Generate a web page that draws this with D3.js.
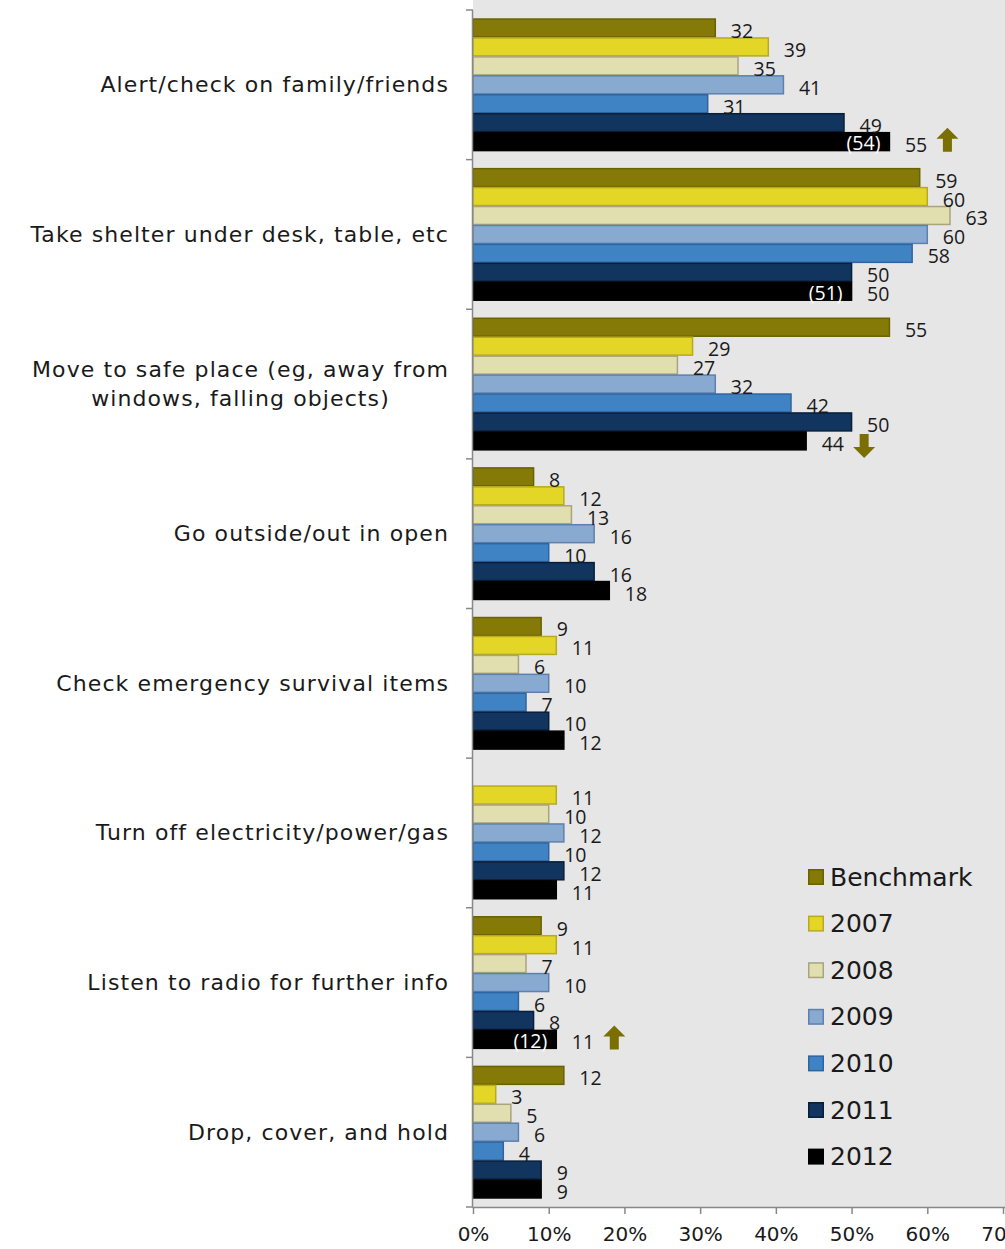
<!DOCTYPE html>
<html>
<head>
<meta charset="utf-8">
<script src="https://cdn.jsdelivr.net/npm/d3@7"></script>
<style>
  html, body { margin: 0; padding: 0; background: #ffffff; }
  svg { display: block; }
  text { font-family: "DejaVu Sans", "Open Sans", sans-serif; fill: #1a1a1a; }
  text.num { font-family: "Open Sans", "DejaVu Sans", sans-serif; }
</style>
</head>
<body>
<svg id="chart" width="1005" height="1249"></svg>
<script>
// ---- data ----
const categories = [
  "Alert/check on family/friends",
  "Take shelter under desk, table, etc",
  "Move to safe place (eg, away from\nwindows, falling objects)",
  "Go outside/out in open",
  "Check emergency survival items",
  "Turn off electricity/power/gas",
  "Listen to radio for further info",
  "Drop, cover, and hold"
];
const seriesNames = ["Benchmark", "2007", "2008", "2009", "2010", "2011", "2012"];
const benchmark = [32, 59, 55, 8, 9, null, 9, 12];
const y2007 = [39, 60, 29, 12, 11, 11, 11, 3];
const y2008 = [35, 63, 27, 13, 6, 10, 7, 5];
const y2009 = [41, 60, 32, 16, 10, 12, 10, 6];
const y2010 = [31, 58, 42, 10, 7, 10, 6, 4];
const y2011 = [49, 50, 50, 16, 10, 12, 8, 9];
const y2012 = [55, 50, 44, 18, 12, 11, 11, 9];
const y2012Prior = [54, 51, null, null, null, null, 12, null];   // values shown in brackets inside 2012 bars
const arrowMarks = [ [0, "up"], [2, "down"], [6, "up"] ];          // [category index, direction]
const xTicks = [0, 10, 20, 30, 40, 50, 60, 70];

const seriesValues = [benchmark, y2007, y2008, y2009, y2010, y2011, y2012];
const fills   = ["#857a08", "#e3d627", "#e1deb0", "#88aad1", "#4083c5", "#11355f", "#000000"];
const strokes = ["#6a6100", "#b8aa1c", "#aaa47c", "#5d80ad", "#2e64a0", "#081f3c", "#000000"];

// ---- layout ----
const svg = d3.select("#chart");
const mLeft = 473, mRight = 1003, mTop = 10, mBottom = 1207;

svg.append("rect").attr("x", mLeft).attr("y", 0)
  .attr("width", 1005 - mLeft).attr("height", mBottom)
  .attr("fill", "#e6e6e6");

const x = d3.scaleLinear().domain([0, 70]).range([mLeft, mRight]);
const y0 = d3.scaleBand().domain(d3.range(categories.length)).range([mTop, mBottom]);
const pad = y0.bandwidth() * 0.057;
const y1 = d3.scaleBand().domain(d3.range(seriesNames.length)).range([pad, y0.bandwidth() - pad]);

// bars
const groups = svg.append("g").selectAll("g")
  .data(categories.map((c, i) => i))
  .join("g")
  .attr("transform", i => `translate(0,${y0(i)})`);

groups.each(function(ci) {
  const g = d3.select(this);
  const rows = seriesNames.map((s, si) => ({ si, v: seriesValues[si][ci] })).filter(d => d.v != null);
  g.selectAll("rect").data(rows).join("rect")
    .attr("x", x(0))
    .attr("y", d => y1(d.si) + 0.5)
    .attr("width", d => x(d.v) - x(0))
    .attr("height", y1.bandwidth() - 1)
    .attr("fill", d => fills[d.si])
    .attr("stroke", d => strokes[d.si])
    .attr("stroke-width", 1.5);
  g.selectAll("text.val").data(rows).join("text")
    .attr("class", "val num")
    .attr("x", d => x(d.v) + 15.5)
    .attr("y", d => y1(d.si) + y1.bandwidth() / 2 + 2.5)
    .attr("dominant-baseline", "central")
    .attr("font-size", 19.5)
    .text(d => d.v);
  const p = y2012Prior[ci];
  if (p != null) {
    g.append("text")
      .attr("class", "num")
      .attr("x", x(y2012[ci]) - 9)
      .attr("y", y1(6) + y1.bandwidth() / 2 + 1)
      .attr("dominant-baseline", "central")
      .attr("text-anchor", "end")
      .attr("font-size", 19.5)
      .style("fill", "#ffffff")
      .text(`(${p})`);
  }
});

// arrows
const arrowPath = (cx, cy, dir) => {
  const w = 22, h = 24, hh = 11, sw = 9;
  const s = dir === "up" ? 1 : -1;
  const tip = cy - s * h / 2, base = cy + s * h / 2, neck = tip + s * hh;
  return `M${cx},${tip} L${cx + w / 2},${neck} L${cx + sw / 2},${neck} L${cx + sw / 2},${base} ` +
         `L${cx - sw / 2},${base} L${cx - sw / 2},${neck} L${cx - w / 2},${neck} Z`;
};
svg.append("g").selectAll("path").data(arrowMarks).join("path")
  .attr("d", ([ci, dir]) => {
    const cx = x(y2012[ci]) + 58;
    const cy = y0(ci) + y1(6) + y1.bandwidth() / 2 + (dir === "down" ? 5 : -2);
    return arrowPath(cx, cy, dir);
  })
  .attr("fill", "#7a6f00");

// axes
const axisColor = "#888888";
const yAxis = svg.append("g");
yAxis.append("line").attr("x1", mLeft - 0.5).attr("x2", mLeft - 0.5)
  .attr("y1", mTop).attr("y2", mBottom).attr("stroke", axisColor).attr("stroke-width", 1.5);
yAxis.selectAll("line.tick").data(d3.range(categories.length + 1)).join("line")
  .attr("class", "tick")
  .attr("x1", mLeft - 7).attr("x2", mLeft)
  .attr("y1", i => i < categories.length ? y0(i) : mBottom)
  .attr("y2", i => i < categories.length ? y0(i) : mBottom)
  .attr("stroke", axisColor).attr("stroke-width", 1.5);

const xAxis = svg.append("g").attr("transform", `translate(0,${mBottom})`)
  .call(d3.axisBottom(x).tickValues(xTicks).tickFormat(d => d + "%").tickSizeOuter(0).tickSize(7));
xAxis.select(".domain").attr("stroke", axisColor).attr("stroke-width", 1.5)
  .attr("d", `M${mLeft - 0.5},0.5H1005`);
xAxis.selectAll(".tick line").attr("stroke", axisColor).attr("stroke-width", 1.5);
xAxis.selectAll(".tick text").attr("font-size", 20).attr("dy", "1.22em")
  .attr("font-family", null).style("fill", "#1a1a1a");

// category labels (multi-line labels are centred on their widest line, right edge at 449)
const labelRight = 449, lineH = 29;
svg.append("g").selectAll("text").data(categories.map((c, i) => i)).join("text")
  .attr("font-size", 22)
  .attr("letter-spacing", 1.1)
  .each(function(i) {
    const lines = categories[i].split("\n");
    const t = d3.select(this);
    const cy = y0(i) + y0.bandwidth() / 2;
    if (lines.length === 1) {
      t.attr("x", labelRight).attr("y", cy).attr("text-anchor", "end")
        .attr("dominant-baseline", "central").text(lines[0]);
    } else {
      t.attr("text-anchor", "middle");
      const spans = lines.map((ln, k) => t.append("tspan")
        .attr("y", cy + (k - (lines.length - 1) / 2) * lineH)
        .attr("dominant-baseline", "central")
        .text(ln));
      const maxW = d3.max(spans, s => s.node().getComputedTextLength());
      spans.forEach(s => s.attr("x", labelRight - maxW / 2));
    }
  });

// legend
const legend = svg.append("g");
const lg = legend.selectAll("g").data(seriesNames.map((s, i) => i)).join("g")
  .attr("transform", i => `translate(808,${877 + i * 46.6})`);
lg.append("rect").attr("x", 0.75).attr("y", -7.25).attr("width", 14.5).attr("height", 14.5)
  .attr("fill", i => fills[i]).attr("stroke", i => strokes[i]).attr("stroke-width", 1.5);
lg.append("text").attr("x", 22).attr("y", 0).attr("dominant-baseline", "central")
  .attr("font-size", 25).text(i => seriesNames[i]);
</script>
</body>
</html>
